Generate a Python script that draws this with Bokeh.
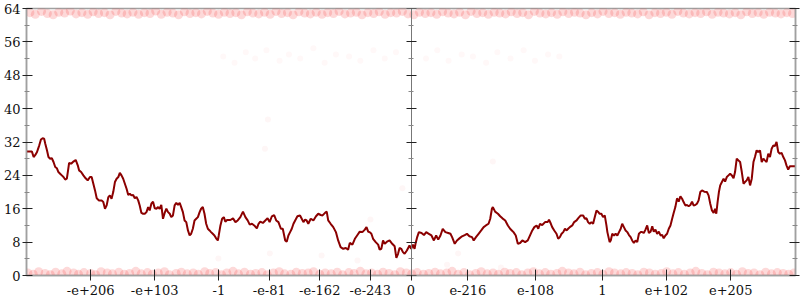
from bokeh.plotting import figure
from bokeh.models import FixedTicker, LinearAxis, Range1d
from bokeh.embed import file_html
from bokeh.resources import INLINE

# ---------------- data ----------------
# x axis: position in the ordering of 64-bit floats (exponent units, -2048..2048)
x_ticks = [-1706, -1365, -1023, -755, -486, -217, 0, 303, 663, 1020, 1360, 1703]
x_labels = ["-e+206", "-e+103", "-1", "-e-81", "-e-162", "-e-243", "0",
            "e-216", "e-108", "1", "e+102", "e+205"]
y_ticks = [0, 8, 16, 24, 32, 40, 48, 56, 64]
y_minor = [4, 12, 20, 28, 36, 44, 52, 60]

line_x = [
    -2048, -2019, -2010, -2001, -1992, -1980, -1971, -1962, -1954, -1948,
    -1939, -1931, -1922, -1913, -1904, -1895, -1886, -1878, -1869, -1860,
    -1851, -1842, -1833, -1828, -1821, -1810, -1798, -1786, -1775, -1768,
    -1757, -1745, -1733, -1722, -1710, -1701, -1692, -1683, -1674, -1662,
    -1648, -1639, -1630, -1621, -1612, -1604, -1595, -1586, -1577, -1568,
    -1559, -1551, -1542, -1533, -1524, -1515, -1506, -1498, -1489, -1480,
    -1471, -1462, -1453, -1445, -1436, -1427, -1418, -1409, -1400, -1392,
    -1383, -1374, -1365, -1356, -1347, -1339, -1330, -1321, -1312, -1303,
    -1294, -1285, -1277, -1268, -1259, -1250, -1241, -1232, -1224, -1215,
    -1206, -1197, -1188, -1179, -1171, -1162, -1153, -1144, -1135, -1126,
    -1118, -1109, -1100, -1091, -1082, -1073, -1065, -1056, -1047, -1038,
    -1029, -1024, -1015, -1006, -997, -989, -980, -962, -948, -935,
    -923, -909, -895, -882, -870, -859, -847, -835, -821, -812,
    -803, -789, -776, -764, -753, -741, -729, -718, -706, -693,
    -683, -670, -662, -653, -644, -635, -626, -617, -605, -591,
    -582, -573, -564, -556, -547, -534, -520, -506, -494, -481,
    -471, -458, -449, -441, -428, -414, -400, -388, -375, -361,
    -347, -335, -326, -312, -299, -287, -273, -259, -246, -237,
    -228, -220, -211, -202, -188, -175, -167, -158, -149, -140,
    -128, -114, -100, -87, -78, -69, -61, -52, -43, -34,
    -22, -8, 1, 10, 19, 24, 33, 42, 56, 69,
    81, 95, 109, 122, 134, 145, 157, 169, 183, 198,
    210, 219, 233, 245, 258, 272, 286, 298, 311, 325,
    334, 346, 360, 374, 387, 399, 413, 422, 431, 436,
    448, 463, 475, 487, 502, 516, 528, 537, 546, 558,
    569, 581, 593, 608, 622, 634, 646, 657, 669, 678,
    687, 699, 714, 728, 735, 745, 752, 763, 775, 784,
    793, 802, 811, 820, 829, 837, 846, 859, 869, 882,
    890, 904, 917, 926, 935, 943, 952, 961, 970, 979,
    988, 996, 1005, 1014, 1023, 1032, 1041, 1046, 1058, 1064,
    1072, 1081, 1090, 1099, 1108, 1117, 1125, 1134, 1143, 1152,
    1161, 1170, 1178, 1187, 1196, 1205, 1214, 1223, 1231, 1240,
    1249, 1258, 1267, 1276, 1285, 1293, 1302, 1311, 1320, 1329,
    1338, 1346, 1355, 1364, 1373, 1382, 1391, 1399, 1408, 1417,
    1426, 1435, 1444, 1452, 1461, 1470, 1479, 1488, 1497, 1505,
    1514, 1523, 1532, 1541, 1550, 1562, 1576, 1585, 1594, 1603,
    1612, 1620, 1626, 1633, 1640, 1647, 1656, 1665, 1673, 1682,
    1691, 1700, 1709, 1718, 1726, 1735, 1744, 1753, 1762, 1771,
    1779, 1788, 1797, 1806, 1815, 1824, 1832, 1841, 1850, 1859,
    1868, 1877, 1885, 1894, 1903, 1912, 1921, 1930, 1938, 1947,
    1956, 1965, 1974, 1983, 1992, 2000, 2009, 2018, 2027, 2048,
]
line_y = [
    29.7, 29.7, 28.4, 28.9, 29.6, 31.2, 32.6, 32.9, 32.8, 31.6,
    30.0, 28.4, 28.0, 28.1, 27.2, 26.0, 25.7, 24.8, 24.4, 24.0,
    23.6, 23.0, 23.2, 24.8, 27.0, 26.8, 27.3, 27.7, 26.4, 25.2,
    24.8, 24.0, 23.3, 22.8, 23.6, 23.6, 22.0, 20.4, 18.5, 18.0,
    18.0, 17.6, 16.0, 16.8, 18.8, 19.2, 18.4, 20.0, 22.4, 23.2,
    23.6, 24.6, 24.0, 23.2, 22.0, 20.8, 19.3, 19.6, 19.2, 19.3,
    18.5, 18.8, 18.0, 16.8, 15.0, 14.8, 14.8, 15.2, 16.4, 15.6,
    17.2, 17.7, 16.1, 16.0, 16.4, 16.0, 16.9, 13.6, 15.0, 16.0,
    15.2, 14.8, 14.0, 14.4, 16.8, 17.4, 16.9, 17.4, 16.4, 15.2,
    13.2, 12.8, 10.8, 9.6, 10.0, 11.2, 13.2, 13.6, 14.0, 15.2,
    16.0, 16.4, 14.8, 12.4, 11.2, 10.8, 10.4, 10.0, 9.6, 8.9,
    8.4, 9.6, 12.0, 13.6, 14.0, 12.9, 13.3, 13.3, 13.7, 12.8,
    13.2, 14.0, 15.3, 14.0, 13.2, 12.2, 12.4, 12.0, 11.3, 12.4,
    12.9, 12.6, 13.2, 13.7, 12.8, 14.2, 14.5, 13.2, 12.8, 11.2,
    11.2, 8.4, 8.1, 9.6, 10.4, 11.2, 12.4, 13.2, 14.2, 14.4,
    13.6, 12.8, 13.4, 13.2, 12.4, 13.6, 13.2, 14.2, 14.8, 14.5,
    14.4, 15.0, 15.3, 13.2, 12.4, 11.6, 10.4, 8.4, 6.8, 6.4,
    6.6, 6.2, 7.8, 7.4, 8.8, 9.6, 10.5, 10.4, 11.0, 11.6,
    10.5, 10.4, 10.0, 8.8, 8.0, 7.4, 6.2, 6.4, 8.4, 7.6,
    8.1, 8.4, 7.6, 7.0, 4.2, 5.2, 6.6, 6.4, 5.6, 5.2,
    6.0, 7.2, 6.4, 7.4, 6.4, 7.6, 9.2, 10.4, 10.2, 9.7,
    10.4, 10.0, 9.6, 8.4, 9.6, 8.6, 9.6, 11.2, 10.4, 10.2,
    10.0, 9.2, 7.6, 8.4, 8.9, 9.4, 9.7, 10.0, 9.4, 9.2,
    8.4, 9.2, 10.0, 10.8, 11.6, 12.0, 12.4, 13.6, 16.0, 16.4,
    15.3, 14.8, 14.2, 13.7, 13.2, 12.0, 11.2, 10.8, 10.4, 9.6,
    7.6, 7.8, 8.4, 8.0, 8.4, 9.6, 10.8, 11.6, 12.0, 11.2,
    12.4, 12.1, 12.8, 12.8, 13.4, 12.4, 11.6, 10.8, 10.0, 8.8,
    9.2, 10.0, 10.4, 11.2, 10.8, 11.2, 11.6, 12.0, 12.8, 13.2,
    13.7, 14.4, 14.4, 13.6, 13.7, 12.8, 12.4, 12.8, 12.4, 14.0,
    15.6, 15.3, 14.8, 14.8, 14.0, 14.4, 12.0, 10.4, 8.0, 8.4,
    10.0, 9.6, 10.0, 9.6, 10.4, 11.2, 12.4, 11.6, 10.8, 10.4,
    9.7, 9.2, 8.4, 7.8, 8.4, 8.0, 10.0, 10.4, 10.4, 10.2,
    11.0, 12.0, 10.2, 10.5, 11.8, 10.5, 11.0, 10.0, 10.5, 9.6,
    9.7, 8.9, 9.6, 10.0, 11.2, 12.0, 13.6, 15.0, 16.4, 18.5,
    17.7, 19.0, 18.4, 17.6, 16.8, 16.9, 16.6, 16.9, 17.7, 16.8,
    16.9, 17.2, 18.0, 20.0, 20.4, 20.1, 20.0, 19.2, 17.2, 15.6,
    15.0, 16.0, 14.8, 17.6, 20.0, 21.6, 22.4, 23.2, 22.5, 23.6,
    24.0, 24.4, 24.0, 23.3, 24.8, 28.0, 27.6, 27.2, 24.8, 22.0,
    22.4, 22.8, 23.6, 21.6, 23.2, 27.2, 28.4, 30.0, 29.6, 30.0,
    27.2, 28.0, 27.6, 27.2, 29.2, 28.4, 30.4, 31.2, 31.0, 32.0,
    29.6, 29.2, 29.4, 28.4, 27.6, 26.4, 25.4, 26.2, 26.2, 26.2,
]

bottom_x = [
    -2041, -2012, -1983, -1949, -1921, -1893, -1860, -1832, -1797, -1771,
    -1742, -1706, -1680, -1651, -1618, -1590, -1556, -1527, -1499, -1466,
    -1437, -1404, -1378, -1346, -1313, -1287, -1251, -1223, -1192, -1160,
    -1133, -1099, -1072, -1040, -1009, -981, -948, -919, -887, -855,
    -827, -794, -766, -733, -702, -673, -640, -611, -579, -548,
    -519, -486, -457, -425, -393, -364, -331, -303, -270, -240,
    -210, -178, -149, -117, -86, -57, -25, 4, 33, 66,
    95, 128, 157, 190, 219, 251, 282, 312, 345, 374,
    406, 437, 466, 499, 528, 561, 590, 622, 652, 684,
    715, 744, 777, 806, 839, 868, 900, 930, 961, 993,
    1022, 1055, 1084, 1117, 1146, 1178, 1208, 1240, 1270, 1301,
    1333, 1362, 1395, 1424, 1456, 1487, 1517, 1549, 1579, 1611,
    1641, 1672, 1703, 1734, 1765, 1796, 1827, 1858, 1889, 1920,
    1951, 1982, 2012, 2040,
]
bottom_y = [
    0.6, 0.3, 0.9, 0.5, 0.2, 0.8, 0.4, 1.0, 0.6, 0.3,
    0.7, 0.5, 0.2, 0.9, 0.6, 0.4, 0.8, 0.3, 0.5, 1.0,
    0.4, 0.7, 0.3, 0.6, 0.9, 0.2, 0.5, 0.8, 0.4, 0.6,
    0.3, 0.9, 0.5, 0.7, 0.2, 0.6, 1.0, 0.4, 0.8, 0.3,
    0.5, 0.7, 0.2, 0.6, 0.9, 0.4, 0.3, 0.8, 0.5, 0.6,
    0.9, 0.3, 0.6, 0.4, 0.8, 0.2, 0.7, 0.5, 1.0, 0.4,
    0.6, 0.3, 0.8, 0.5, 0.2, 0.9, 0.6, 0.4, 0.7, 0.3,
    0.5, 0.8, 0.4, 0.6, 1.0, 0.3, 0.7, 0.2, 0.5, 0.9,
    0.4, 0.6, 0.3, 0.8, 0.5, 0.7, 0.2, 0.6, 0.9, 0.4,
    0.7, 0.3, 0.5, 1.0, 0.6, 0.4, 0.8, 0.2, 0.5, 0.7,
    0.3, 0.9, 0.6, 0.4, 0.7, 0.5, 0.2, 0.8, 0.6, 0.3,
    0.5, 0.9, 0.4, 0.7, 0.3, 0.6, 1.0, 0.5, 0.2, 0.8,
    0.6, 0.4, 0.7, 0.3, 0.9, 0.5, 0.6, 0.2, 0.8, 0.4,
    0.7, 0.5, 0.3, 0.6,
]

top_x = [
    -2030, -2001, -1968, -1937, -1906, -1876, -1845, -1815, -1784, -1753,
    -1722, -1693, -1664, -1633, -1603, -1572, -1541, -1512, -1481, -1451,
    -1420, -1390, -1360, -1330, -1299, -1268, -1238, -1207, -1177, -1146,
    -1116, -1085, -1055, -1025, -994, -964, -933, -903, -872, -842,
    -811, -780, -750, -719, -689, -658, -628, -597, -566, -536,
    -505, -474, -444, -413, -383, -352, -322, -291, -261, -230,
    -199, -169, -138, -108, -77, -46, -16, 15, 45, 76,
    106, 137, 168, 198, 229, 259, 290, 320, 351, 382,
    412, 443, 473, 504, 534, 565, 595, 626, 657, 687,
    718, 748, 779, 809, 840, 871, 901, 932, 962, 993,
    1023, 1054, 1085, 1115, 1146, 1176, 1207, 1237, 1268, 1299,
    1329, 1360, 1390, 1421, 1451, 1482, 1513, 1543, 1574, 1604,
    1635, 1665, 1696, 1727, 1757, 1788, 1818, 1849, 1879, 1910,
    1941, 1971, 2002, 2032,
]
top_y = [
    63.0, 62.6, 63.3, 62.8, 62.5, 63.1, 62.9, 63.4, 62.7, 63.0,
    62.6, 63.2, 62.8, 63.0, 62.5, 63.3, 62.9, 62.7, 63.1, 62.6,
    63.0, 62.8, 63.4, 62.6, 63.1, 62.9, 62.5, 63.2, 62.8, 63.0,
    62.7, 63.3, 62.9, 62.6, 63.1, 62.8, 63.0, 62.5, 63.2, 62.9,
    62.7, 63.1, 62.6, 63.3, 62.8, 63.0, 62.5, 63.2, 62.9, 62.7,
    63.1, 62.6, 63.0, 62.8, 63.3, 62.7, 62.9, 63.1, 62.5, 63.0,
    62.8, 63.2, 62.6, 63.0, 62.9, 63.3, 62.7, 62.5, 63.1, 62.8,
    63.0, 62.6, 63.2, 62.9, 62.7, 63.1, 62.5, 63.3, 62.8, 63.0,
    62.6, 63.1, 62.9, 62.7, 63.2, 62.8, 63.0, 62.5, 63.3, 62.9,
    62.7, 63.0, 62.6, 63.2, 62.8, 63.1, 62.9, 62.5, 63.0, 62.7,
    63.3, 62.8, 63.0, 62.6, 63.1, 62.9, 62.7, 63.2, 62.5, 63.0,
    62.8, 63.1, 62.6, 63.3, 62.9, 62.7, 63.0, 62.8, 63.2, 62.6,
    63.1, 62.9, 62.7, 63.0, 62.5, 63.2, 62.8, 63.0, 62.6, 63.1,
    62.9, 62.7, 63.0, 62.8,
]

mid_x = [-1000, -940, -880, -830, -770, -700, -650, -590, -520, -460,
         -400, -330, -270, -200, -140, -80, 80, 140, 200, 270,
         330, 400, 460, 530, 600, 660, 730, 790]
mid_y = [52.5, 51.0, 53.5, 52.0, 54.0, 51.5, 53.0, 52.0, 54.5, 51.0,
         53.0, 52.5, 51.5, 54.0, 52.0, 53.5, 52.0, 54.0, 51.5, 53.0,
         52.5, 51.0, 53.5, 52.0, 54.0, 51.5, 53.0, 52.5]

sparse_x = [-762, -778, 436, -46, -216, -1026, -752, -476, -285, 251, 192, 479]
sparse_y = [37.4, 30.4, 27.3, 20.9, 13.4, 4.1, 5.3, 4.8, 3.6, 5.3, 2.6, 1.9]

# ---------------- figure ----------------
FONT = "DejaVu Serif"
AXIS_GRAY = "#a0a0a0"
DOT = "#f01010"

p = figure(width=800, height=300,
           x_range=Range1d(-2048, 2048), y_range=Range1d(0, 64),
           output_backend="svg", toolbar_location=None,
           min_border_left=23, min_border_right=5,
           min_border_top=8, min_border_bottom=25)
p.grid.visible = False
p.outline_line_color = AXIS_GRAY
p.outline_line_width = 1.5
p.background_fill_color = "white"
p.border_fill_color = "white"

# faint point clouds
p.scatter(sparse_x, sparse_y, marker="circle", size=6, color=DOT,
          alpha=0.04, line_color=None)
p.scatter(mid_x, mid_y, marker="circle", size=6, color=DOT,
          alpha=0.03, line_color=None)
p.scatter(bottom_x, bottom_y, marker="circle", size=9, color=DOT,
          alpha=0.16, line_color=None)
p.scatter(top_x, top_y, marker="circle", size=9, color=DOT,
          alpha=0.16, line_color=None)

# the main line
p.line(line_x, line_y, line_color="#8b0000", line_width=2)

# left y axis
ya = p.yaxis[0]
ya.ticker = FixedTicker(ticks=y_ticks, minor_ticks=y_minor)
ya.major_label_text_font = FONT
ya.major_label_text_font_size = "13px"
ya.major_label_text_color = "#111111"
ya.major_label_standoff = 2
ya.major_tick_in = 6
ya.major_tick_out = 4
ya.minor_tick_in = 3
ya.minor_tick_out = 2
ya.axis_line_color = AXIS_GRAY
ya.axis_line_width = 1.5
ya.major_tick_line_color = "#222222"
ya.minor_tick_line_color = "#888888"

# bottom x axis
xa = p.xaxis[0]
xa.ticker = FixedTicker(ticks=x_ticks, minor_ticks=[])
xa.major_label_overrides = {t: lab for t, lab in zip(x_ticks, x_labels)}
xa.major_label_text_font = FONT
xa.major_label_text_font_size = "13px"
xa.major_label_text_color = "#111111"
xa.major_label_standoff = 4
xa.major_tick_in = 6
xa.major_tick_out = 5
xa.axis_line_color = AXIS_GRAY
xa.axis_line_width = 1.5
xa.major_tick_line_color = "#222222"

blank = {t: "" for t in y_ticks}

# right axis (ticks only)
ra = LinearAxis(ticker=FixedTicker(ticks=y_ticks, minor_ticks=y_minor),
                major_label_overrides=blank,
                major_tick_in=6, major_tick_out=4,
                minor_tick_in=3, minor_tick_out=2,
                axis_line_color=AXIS_GRAY, axis_line_width=1.5,
                major_tick_line_color="#222222",
                minor_tick_line_color="#888888",
                major_label_standoff=0)
p.add_layout(ra, "right")

# centre axis at x = 0 (ticks both sides)
ca = LinearAxis(ticker=FixedTicker(ticks=y_ticks, minor_ticks=y_minor),
                fixed_location=0,
                major_label_overrides=blank,
                major_tick_in=5, major_tick_out=5,
                minor_tick_in=3, minor_tick_out=2,
                axis_line_color="#777777", axis_line_width=1,
                major_tick_line_color="#222222",
                minor_tick_line_color="#888888",
                major_label_standoff=0)
p.add_layout(ca, "right")

open("out.html", "w").write(file_html(p, INLINE))
